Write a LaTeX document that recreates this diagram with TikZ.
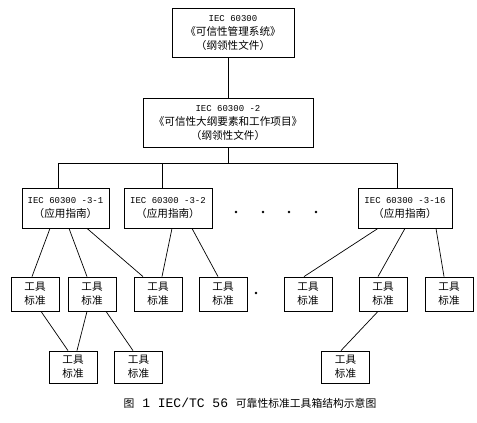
\documentclass[tikz,border=0pt]{standalone}
\usepackage{fontspec}
\setmainfont{Noto Sans CJK SC}
\newfontfamily\latfont{Liberation Mono}
\newcommand{\latn}[1]{{\latfont\fontsize{9}{14}\selectfont #1}}
\begin{document}
\begin{tikzpicture}[x=1pt,y=-1pt,
  box/.style={draw, line width=0.8pt, inner sep=0pt, align=center,
    font=\fontsize{10.6}{14}\selectfont},
  tool/.style={box, minimum width=48pt, minimum height=34pt},
  link/.style={line width=0.7pt},
  dotmark/.style={circle, fill, inner sep=0pt, minimum size=2.6pt}]
\useasboundingbox (0,0) rectangle (477,423);
\fill[white] (0,0) rectangle (477,423);

\node[box, minimum width=122pt, minimum height=49pt] (top) at (233,32.5)
  {\latn{IEC 60300}\\《可信性管理系统》\\（纲领性文件）};
\node[box, minimum width=170pt, minimum height=49pt] (b2) at (228,122.5)
  {\latn{IEC 60300 -2}\\《可信性大纲要素和工作项目》\\（纲领性文件）};

\node[box, minimum width=87pt, minimum height=40pt] (b31) at (65.5,208)
  {\latn{IEC 60300 -3-1}\\（应用指南）};
\node[box, minimum width=88pt, minimum height=40pt] (b32) at (168,208)
  {\latn{IEC 60300 -3-2}\\（应用指南）};
\node[box, minimum width=94pt, minimum height=40pt] (b316) at (405,208)
  {\latn{IEC 60300 -3-16}\\（应用指南）};

\node[tool] (t1) at (35,294) {工具\\标准};
\node[tool] (t2) at (92,294) {工具\\标准};
\node[tool] (t3) at (158,294) {工具\\标准};
\node[tool] (t4) at (223,294) {工具\\标准};
\node[tool] (t5) at (308,294) {工具\\标准};
\node[tool] (t6) at (383,294) {工具\\标准};
\node[tool] (t7) at (449,294) {工具\\标准};

\node[tool, minimum height=32pt] (r1) at (73,367) {工具\\标准};
\node[tool, minimum height=32pt] (r2) at (138.5,367) {工具\\标准};
\node[tool, minimum height=32pt] (r3) at (345.5,367) {工具\\标准};

\node[dotmark] (d1) at (236,212) {};
\node[dotmark] (d2) at (263,212) {};
\node[dotmark] (d3) at (289,212) {};
\node[dotmark] (d4) at (316,212) {};
\node[dotmark] (d5) at (256,293) {};

\coordinate (busM) at (228,163);
\coordinate (busL) at (58.5,163);
\coordinate (busC) at (162.5,163);
\coordinate (busR) at (397.5,163);

\draw[link] (top.south -| b2.north) -- (b2.north);
\draw[link] (b2.south) -- (busM);
\draw[link] (busL) -- (busR);
\draw[link] (busL) -- (busL |- b31.north);
\draw[link] (busC) -- (busC |- b32.north);
\draw[link] (busR) -- (busR |- b316.north);

\draw[link] ([xshift=-15.5pt]b31.south) -- ([xshift=-3pt]t1.north);
\draw[link] ([xshift=3.5pt]b31.south) -- ([xshift=-5pt]t2.north);
\draw[link] ([xshift=21.5pt]b31.south) -- ([xshift=-15pt]t3.north);
\draw[link] ([xshift=4pt]b32.south) -- ([xshift=4pt]t3.north);
\draw[link] ([xshift=24pt]b32.south) -- ([xshift=-5pt]t4.north);
\draw[link] ([xshift=-27pt]b316.south) -- ([xshift=-4pt]t5.north);
\draw[link] (b316.south) -- ([xshift=-5pt]t6.north);
\draw[link] ([xshift=31pt]b316.south) -- ([xshift=-5pt]t7.north);

\draw[link] ([xshift=6pt]t1.south) -- ([xshift=-5pt]r1.north);
\draw[link] ([xshift=-5pt]t2.south) -- ([xshift=4pt]r1.north);
\draw[link] ([xshift=14pt]t2.south) -- ([xshift=-5.5pt]r2.north);
\draw[link] ([xshift=-5pt]t6.south) -- ([xshift=-4.5pt]r3.north);

\node[font=\fontsize{10.8}{13}\selectfont, inner sep=0pt] (cap) at (250,403)
  {图{\latfont\fontsize{13}{13}\selectfont\ 1 IEC/TC 56 }可靠性标准工具箱结构示意图};
\end{tikzpicture}
\end{document}
